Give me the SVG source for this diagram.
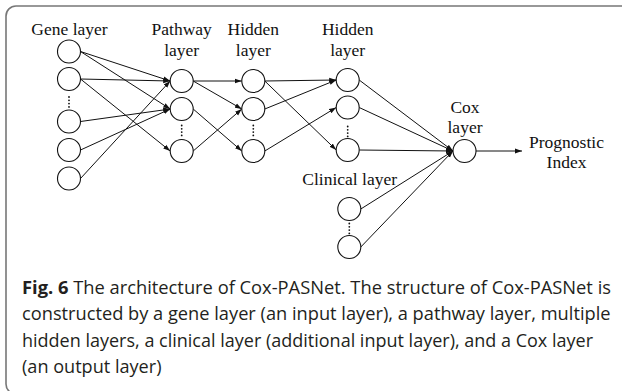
<svg xmlns="http://www.w3.org/2000/svg" width="622" height="391" viewBox="0 0 622 391">
<style>
.lbl{font-family:"Liberation Serif","Times New Roman",serif;font-size:17.5px;fill:#111;text-anchor:middle}
.node{fill:#fff;stroke:#111;stroke-width:1.1}
.edge{stroke:#111;stroke-width:1;fill:none}
.dot{fill:#111}
.cap{font-family:"Open Sans","Noto Sans",sans-serif;font-size:17.6px;fill:#231f20}
</style>
<defs>
<marker id="ah" markerUnits="userSpaceOnUse" markerWidth="8" markerHeight="6" refX="7" refY="3" orient="auto">
<path d="M0,0.6 L7,3 L0,5.4 Z" fill="#111"/>
</marker>
</defs>
<rect x="6" y="6" width="640" height="388" rx="10" ry="10" fill="#fff" stroke="#777" stroke-width="1.6"/>

<g id="connectors" class="edge" marker-end="url(#ah)">
<line x1="80.5" y1="51.5" x2="170.2" y2="81"/>
<line x1="80.5" y1="51.5" x2="170.2" y2="109"/>
<line x1="80.5" y1="79" x2="170.2" y2="81"/>
<line x1="80.5" y1="79" x2="170.2" y2="151"/>
<line x1="80.5" y1="121.5" x2="170.2" y2="109"/>
<line x1="80.5" y1="150" x2="170.2" y2="109"/>
<line x1="80.5" y1="178.5" x2="170.2" y2="81"/>
<line x1="193.2" y1="81" x2="241.8" y2="81"/>
<line x1="193.2" y1="81" x2="241.8" y2="109"/>
<line x1="193.2" y1="109" x2="241.8" y2="151"/>
<line x1="193.2" y1="151" x2="241.8" y2="109"/>
<line x1="264.8" y1="81" x2="336.2" y2="80"/>
<line x1="264.8" y1="81" x2="336.2" y2="150"/>
<line x1="264.8" y1="109" x2="336.2" y2="80"/>
<line x1="264.8" y1="151" x2="336.2" y2="107.5"/>
<line x1="359.2" y1="80" x2="453" y2="151"/>
<line x1="359.2" y1="107.5" x2="453" y2="151"/>
<line x1="359.2" y1="150" x2="453" y2="151"/>
<line x1="360.8" y1="209" x2="453" y2="151"/>
<line x1="360.8" y1="247" x2="453" y2="151"/>
<line x1="476" y1="151" x2="522" y2="151"/>
</g>

<g id="gene-layer">
<text class="lbl" x="69.5" y="35">Gene layer</text>
<circle class="node" cx="69" cy="51.5" r="11.5"/>
<circle class="node" cx="69" cy="79" r="11.5"/>
<circle class="dot" cx="69" cy="97" r="0.9"/><circle class="dot" cx="69" cy="100.3" r="0.9"/><circle class="dot" cx="69" cy="103.6" r="0.9"/><circle class="dot" cx="69" cy="106.9" r="0.9"/>
<circle class="node" cx="69" cy="121.5" r="11.5"/>
<circle class="node" cx="69" cy="150" r="11.5"/>
<circle class="node" cx="69" cy="178.5" r="11.5"/>
</g>

<g id="pathway-layer">
<text class="lbl" x="181.7" y="35">Pathway</text>
<text class="lbl" x="181.7" y="56">layer</text>
<circle class="node" cx="181.7" cy="81" r="11.5"/>
<circle class="node" cx="181.7" cy="109" r="11.5"/>
<circle class="dot" cx="181.7" cy="125.5" r="0.9"/><circle class="dot" cx="181.7" cy="128.8" r="0.9"/><circle class="dot" cx="181.7" cy="132.1" r="0.9"/><circle class="dot" cx="181.7" cy="135.4" r="0.9"/>
<circle class="node" cx="181.7" cy="151" r="11.5"/>
</g>

<g id="hidden-layer-1">
<text class="lbl" x="253.3" y="35">Hidden</text>
<text class="lbl" x="253.3" y="56">layer</text>
<circle class="node" cx="253.3" cy="81" r="11.5"/>
<circle class="node" cx="253.3" cy="109" r="11.5"/>
<circle class="dot" cx="253.3" cy="125.5" r="0.9"/><circle class="dot" cx="253.3" cy="128.8" r="0.9"/><circle class="dot" cx="253.3" cy="132.1" r="0.9"/><circle class="dot" cx="253.3" cy="135.4" r="0.9"/>
<circle class="node" cx="253.3" cy="151" r="11.5"/>
</g>

<g id="hidden-layer-2">
<text class="lbl" x="347.7" y="35">Hidden</text>
<text class="lbl" x="347.7" y="56">layer</text>
<circle class="node" cx="347.7" cy="80" r="11.5"/>
<circle class="node" cx="347.7" cy="107.5" r="11.5"/>
<circle class="dot" cx="347.7" cy="126.5" r="0.9"/><circle class="dot" cx="347.7" cy="129.8" r="0.9"/><circle class="dot" cx="347.7" cy="133.1" r="0.9"/><circle class="dot" cx="347.7" cy="136.4" r="0.9"/>
<circle class="node" cx="347.7" cy="150" r="11.5"/>
</g>

<g id="clinical-layer">
<text class="lbl" x="349.7" y="185">Clinical layer</text>
<circle class="node" cx="349.3" cy="209" r="11.5"/>
<circle class="dot" cx="349.3" cy="223.5" r="0.9"/><circle class="dot" cx="349.3" cy="226.8" r="0.9"/><circle class="dot" cx="349.3" cy="230.1" r="0.9"/><circle class="dot" cx="349.3" cy="233.4" r="0.9"/>
<circle class="node" cx="349.3" cy="247" r="11.5"/>
</g>

<g id="cox-layer">
<text class="lbl" x="465" y="113">Cox</text>
<text class="lbl" x="465" y="133">layer</text>
<circle class="node" cx="464.5" cy="151" r="11.5"/>
</g>

<g id="prognostic-index">
<text class="lbl" x="566.5" y="148">Prognostic</text>
<text class="lbl" x="566.5" y="168">Index</text>
</g>

<g id="caption">
<text class="cap" x="22" y="294" textLength="589" lengthAdjust="spacingAndGlyphs"><tspan font-weight="bold">Fig. 6</tspan> The architecture of Cox-PASNet. The structure of Cox-PASNet is</text>
<text class="cap" x="22" y="320.3" textLength="588.5" lengthAdjust="spacingAndGlyphs">constructed by a gene layer (an input layer), a pathway layer, multiple</text>
<text class="cap" x="22" y="346.6" textLength="571" lengthAdjust="spacingAndGlyphs">hidden layers, a clinical layer (additional input layer), and a Cox layer</text>
<text class="cap" x="22" y="373" textLength="139.5" lengthAdjust="spacingAndGlyphs">(an output layer)</text>
</g>
</svg>
